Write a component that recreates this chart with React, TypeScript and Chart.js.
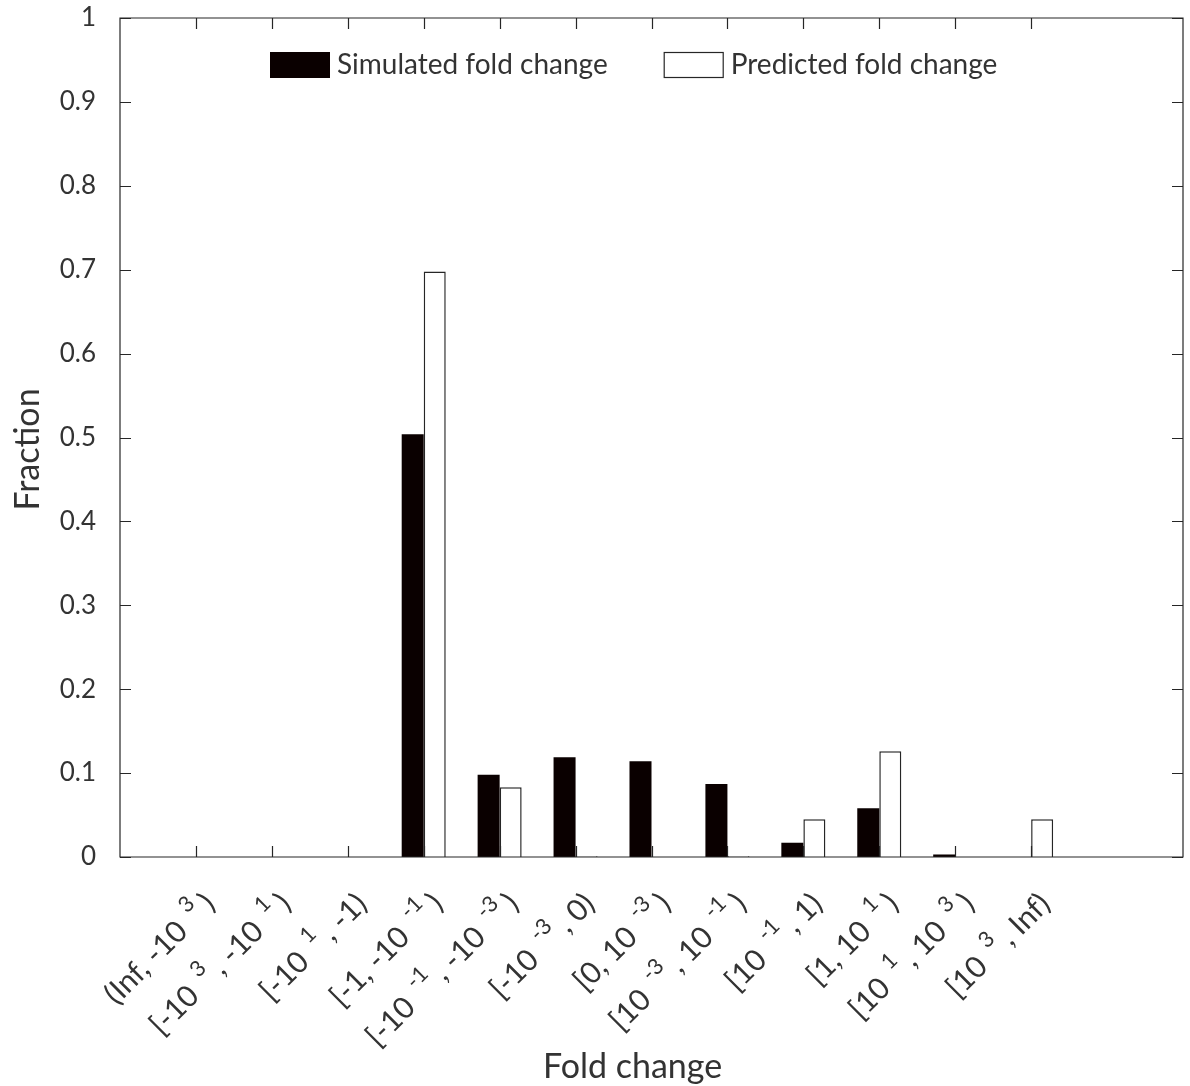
import React, { useEffect, useRef } from "react";
import { Chart, registerables } from "chart.js";

Chart.register(...registerables);

// tick labels; ^{...} marks a superscript
const categories = [
  "(Inf, -10^{3})",
  "[-10^{3}, -10^{1})",
  "[-10^{1}, -1)",
  "[-1, -10^{-1})",
  "[-10^{-1}, -10^{-3})",
  "[-10^{-3}, 0)",
  "[0, 10^{-3})",
  "[10^{-3}, 10^{-1})",
  "[10^{-1}, 1)",
  "[1, 10^{1})",
  "[10^{1}, 10^{3})",
  "[10^{3}, Inf)",
];
const simulated = [0, 0, 0, 0.504, 0.098, 0.119, 0.114, 0.087, 0.017, 0.058, 0.003, 0];
const predicted = [0, 0, 0, 0.698, 0.083, 0.001, 0, 0.001, 0.045, 0.126, 0, 0.045];
const seriesNames = ["Simulated fold change", "Predicted fold change"];
const yTicks = [0, 0.1, 0.2, 0.3, 0.4, 0.5, 0.6, 0.7, 0.8, 0.9, 1];
const xTitle = "Fold change";
const yTitle = "Fraction";

const FONT = "Lato";
const TEXT = "#333333";
const AXIS = "#262626";
const BLACK = "#0a0000";
const XTICK_SIZE = 30;

function parseLabel(s: string) {
  const parts: { text: string; sup: boolean }[] = [];
  const re = /\^\{([^}]*)\}/g;
  let last = 0;
  let m: RegExpExecArray | null;
  while ((m = re.exec(s))) {
    if (m.index > last) parts.push({ text: s.slice(last, m.index), sup: false });
    parts.push({ text: m[1], sup: true });
    last = m.index + m[0].length;
  }
  if (last < s.length) parts.push({ text: s.slice(last), sup: false });
  return parts;
}

const boxPlugin = {
  id: "matlabBox",
  afterDatasetsDraw(chart: any) {
    const { ctx, chartArea, scales } = chart;
    const { left, right, top, bottom } = chartArea;
    const x = scales.x;
    const y = scales.y;
    const tl = 11;
    ctx.save();
    ctx.strokeStyle = AXIS;
    ctx.lineWidth = 1.2;
    ctx.beginPath();
    ctx.rect(left, top, right - left, bottom - top);
    x.ticks.forEach((t: any) => {
      const px = Math.round(x.getPixelForValue(t.value)) + 0.5;
      ctx.moveTo(px, bottom);
      ctx.lineTo(px, bottom - tl);
      ctx.moveTo(px, top);
      ctx.lineTo(px, top + tl);
    });
    y.ticks.forEach((t: any) => {
      const py = Math.round(y.getPixelForValue(t.value)) + 0.5;
      ctx.moveTo(left, py);
      ctx.lineTo(left + tl, py);
      ctx.moveTo(right, py);
      ctx.lineTo(right - tl, py);
    });
    ctx.stroke();
    ctx.restore();
  },
  afterDraw(chart: any) {
    const { ctx, chartArea, scales } = chart;
    // rotated x tick labels with superscripts
    const x = scales.x;
    const base = `${XTICK_SIZE}px ${FONT}`;
    const supSize = Math.round(XTICK_SIZE * 0.72);
    const sup = `${supSize}px ${FONT}`;
    const gapBefore = XTICK_SIZE * 0.4;
    const gapAfter = XTICK_SIZE * 0.2;
    ctx.save();
    ctx.fillStyle = TEXT;
    ctx.textBaseline = "middle";
    ctx.textAlign = "left";
    categories.forEach((lab, i) => {
      const parts = parseLabel(lab);
      const widths = parts.map((p) => {
        ctx.font = p.sup ? sup : base;
        return ctx.measureText(p.text).width + (p.sup ? gapBefore + gapAfter : 0);
      });
      const total = widths.reduce((a, b) => a + b, 0);
      const px = x.getPixelForValue(i + 1) + 14;
      const py = chartArea.bottom + 42;
      ctx.save();
      ctx.translate(px, py);
      ctx.rotate(-Math.PI / 4);
      let cx = -total;
      parts.forEach((p, k) => {
        if (p.sup) {
          ctx.font = sup;
          ctx.fillText(p.text, cx + gapBefore, -XTICK_SIZE * 0.42);
        } else {
          ctx.font = base;
          ctx.fillText(p.text, cx, 0);
        }
        cx += widths[k];
      });
      ctx.restore();
    });
    ctx.restore();

    // axis titles
    ctx.save();
    ctx.fillStyle = TEXT;
    ctx.font = `34px ${FONT}`;
    ctx.textAlign = "center";
    ctx.textBaseline = "middle";
    ctx.fillText(xTitle, (chartArea.left + chartArea.right) / 2 - 19, chartArea.bottom + 210);
    ctx.translate(28, (chartArea.top + chartArea.bottom) / 2 + 12);
    ctx.rotate(-Math.PI / 2);
    ctx.fillText(yTitle, 0, 0);
    ctx.restore();

    // legend
    ctx.save();
    ctx.font = `28px ${FONT}`;
    ctx.textBaseline = "middle";
    ctx.textAlign = "left";
    const sw = 60;
    const sh = 26;
    const gap = 7;
    const itemGap = 56;
    const w1 = ctx.measureText(seriesNames[0]).width;
    let xPos = chartArea.left + 150;
    const yMid = chartArea.top + 47;
    ctx.fillStyle = BLACK;
    ctx.fillRect(xPos, yMid - sh / 2, sw, sh);
    ctx.fillStyle = TEXT;
    ctx.fillText(seriesNames[0], xPos + sw + gap, yMid);
    xPos = xPos + sw + gap + w1 + itemGap;
    ctx.fillStyle = "#ffffff";
    ctx.fillRect(xPos, yMid - sh / 2, sw, sh);
    ctx.strokeStyle = AXIS;
    ctx.lineWidth = 1.2;
    ctx.strokeRect(xPos + 0.5, yMid - sh / 2 + 0.5, sw - 1, sh - 1);
    ctx.fillStyle = TEXT;
    ctx.fillText(seriesNames[1], xPos + sw + gap, yMid);
    ctx.restore();
  },
};

export default function App() {
  const ref = useRef<HTMLCanvasElement | null>(null);
  useEffect(() => {
    if (!ref.current) return;
    const chart = new Chart(ref.current, {
      type: "bar",
      data: {
        datasets: [
          {
            label: seriesNames[0],
            data: simulated.map((v, i) => ({ x: i + 1, y: v })),
            backgroundColor: BLACK,
            borderColor: BLACK,
            borderWidth: 0,
            categoryPercentage: 0.58,
            barPercentage: 1,
          },
          {
            label: seriesNames[1],
            data: predicted.map((v, i) => ({ x: i + 1, y: v })),
            backgroundColor: "#ffffff",
            borderColor: AXIS,
            borderWidth: 1.5,
            categoryPercentage: 0.58,
            barPercentage: 1,
          },
        ],
      },
      options: {
        responsive: false,
        animation: false,
        devicePixelRatio: 1,
        layout: { padding: { top: 18, right: 7, left: 0, bottom: 0 } },
        plugins: {
          legend: { display: false },
          tooltip: { enabled: false },
        },
        scales: {
          x: {
            type: "linear",
            min: 0,
            max: 14,
            offset: false,
            grid: { display: false, drawTicks: false },
            border: { display: false },
            afterBuildTicks: (axis: any) => {
              axis.ticks = categories.map((_, i) => ({ value: i + 1 }));
            },
            afterFit: (s: any) => {
              s.height = 229;
              s.paddingLeft = 0;
              s.paddingRight = 0;
            },
            ticks: { display: false },
          },
          y: {
            type: "linear",
            min: 0,
            max: 1,
            grid: { display: false, drawTicks: false },
            border: { display: false },
            afterBuildTicks: (axis: any) => {
              axis.ticks = yTicks.map((v) => ({ value: v }));
            },
            afterFit: (s: any) => {
              s.width = 120;
              s.paddingTop = 0;
              s.paddingBottom = 0;
            },
            ticks: {
              padding: 24,
              color: TEXT,
              font: { family: FONT, size: 26 },
              callback: (v: any) => String(Number(Number(v).toFixed(1))),
            },
          },
        },
      },
      plugins: [boxPlugin],
    });
    return () => chart.destroy();
  }, []);
  return (
    <div style={{ position: "absolute", left: 0, top: 0, width: 1190, height: 1086, background: "#fff" }}>
      <canvas ref={ref} width={1190} height={1086} />
    </div>
  );
}
